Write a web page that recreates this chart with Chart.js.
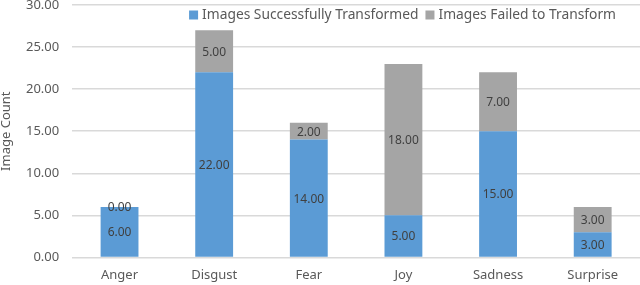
<!DOCTYPE html>
<html>
<head>
<meta charset="utf-8">
<script src="https://cdn.jsdelivr.net/npm/chart.js@4.4.1/dist/chart.umd.min.js"></script>
<style>
  html, body { margin: 0; padding: 0; background: #fff; }
  #wrap { width: 640px; height: 285px; }
</style>
</head>
<body>
<div id="wrap"><canvas id="chart"></canvas></div>
<script>
var categories = ["Anger", "Disgust", "Fear", "Joy", "Sadness", "Surprise"];
var transformed = [6, 22, 14, 5, 15, 3];
var failed = [0, 5, 2, 18, 7, 3];
var seriesNames = ["Images Successfully Transformed", "Images Failed to Transform"];
var yTicks = [0, 5, 10, 15, 20, 25, 30];

var FONT = "'Noto Sans', 'Open Sans', sans-serif";

// labels in the middle of each stacked segment
var segmentLabels = {
  id: "segmentLabels",
  afterDatasetsDraw: function (chart) {
    var ctx = chart.ctx;
    ctx.save();
    ctx.font = "12px " + FONT;
    ctx.fillStyle = "#404040";
    ctx.textAlign = "center";
    ctx.textBaseline = "middle";
    chart.data.datasets.forEach(function (ds, i) {
      var meta = chart.getDatasetMeta(i);
      meta.data.forEach(function (bar, j) {
        var mid = (bar.y + bar.base) / 2;
        ctx.fillText(ds.data[j].toFixed(2), bar.x, mid + 1);
      });
    });
    ctx.restore();
  }
};

// legend drawn inside the plot area, like the original
var innerLegend = {
  id: "innerLegend",
  afterDraw: function (chart) {
    var ctx = chart.ctx;
    var area = chart.chartArea;
    ctx.save();
    ctx.font = "13.8px " + FONT;
    ctx.textBaseline = "middle";
    var box = 9, gap = 4, spacing = 7;
    var widths = chart.data.datasets.map(function (ds) {
      return box + gap + ctx.measureText(ds.label).width;
    });
    var total = widths.reduce(function (a, b) { return a + b; }, 0) + spacing;
    var x = area.right - 24 - total;
    var y = 15;
    chart.data.datasets.forEach(function (ds, i) {
      ctx.fillStyle = ds.backgroundColor;
      ctx.fillRect(x, y - box / 2, box, box);
      ctx.fillStyle = "#595959";
      ctx.fillText(ds.label, x + box + gap, y);
      x += widths[i] + spacing;
    });
    ctx.restore();
  }
};

new Chart(document.getElementById("chart"), {
  type: "bar",
  data: {
    labels: categories,
    datasets: [
      {
        label: seriesNames[0],
        data: transformed,
        backgroundColor: "#5B9BD5",
        barPercentage: 0.8,
        categoryPercentage: 0.5
      },
      {
        label: seriesNames[1],
        data: failed,
        backgroundColor: "#A5A5A5",
        barPercentage: 0.8,
        categoryPercentage: 0.5
      }
    ]
  },
  options: {
    responsive: true,
    maintainAspectRatio: false,
    animation: false,
    layout: { padding: { top: 5, right: 0, left: 0, bottom: 0 } },
    plugins: {
      legend: { display: false },
      tooltip: { enabled: false }
    },
    scales: {
      x: {
        stacked: true,
        grid: { display: false },
        border: { display: false },
        ticks: { color: "#595959", font: { family: FONT, size: 13 }, padding: 2 }
      },
      y: {
        stacked: true,
        min: 0,
        max: 30,
        afterBuildTicks: function (axis) {
          axis.ticks = yTicks.map(function (v) { return { value: v }; });
        },
        afterFit: function (axis) {
          axis.paddingTop = 0;
        },
        grid: { color: "#D9D9D9", lineWidth: 1.5, drawTicks: false },
        border: { display: false },
        ticks: {
          color: "#595959",
          font: { family: FONT, size: 13 },
          padding: 13,
          callback: function (v) { return Number(v).toFixed(2); }
        },
        title: {
          display: true,
          text: "Image Count",
          color: "#595959",
          font: { family: FONT, size: 13, lineHeight: 1 },
          padding: { top: 0, bottom: 0 }
        }
      }
    }
  },
  plugins: [segmentLabels, innerLegend]
});
</script>
</body>
</html>
